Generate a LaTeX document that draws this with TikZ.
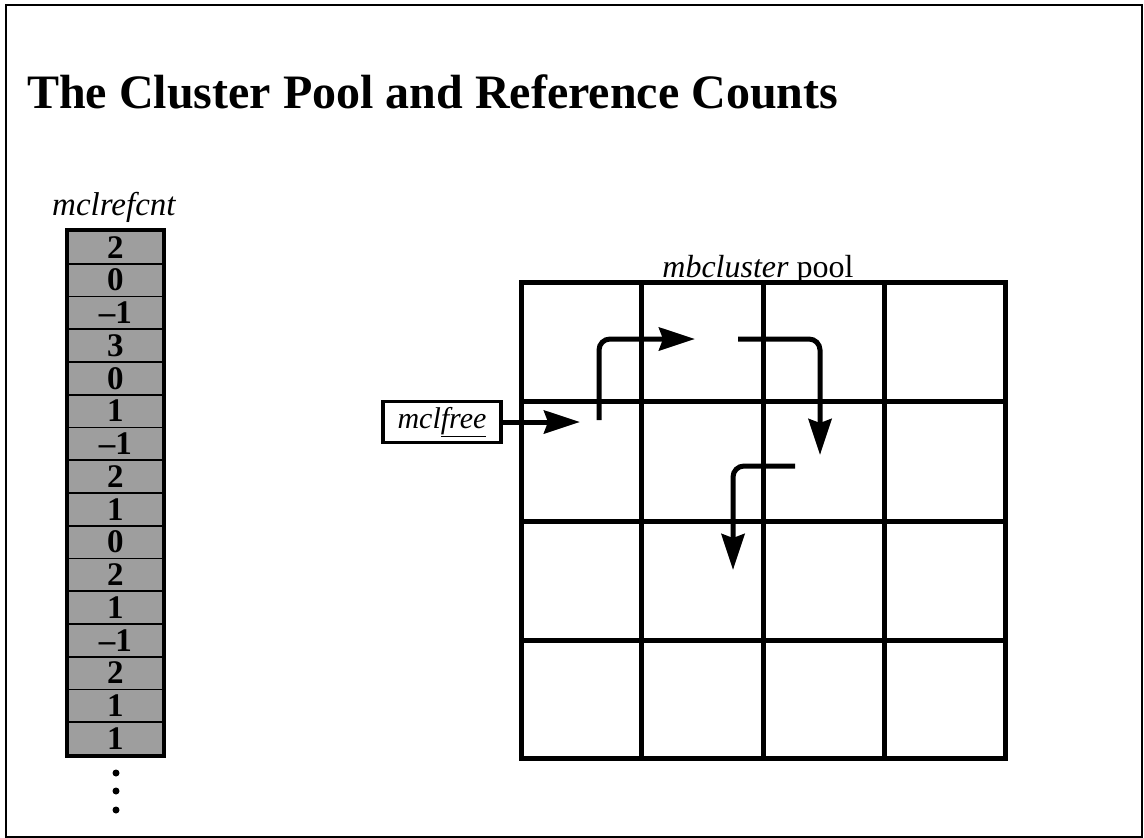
\documentclass[tikz,border=0pt]{standalone}
\usepackage{fontspec}
\setmainfont{Liberation Serif}
\usetikzlibrary{arrows.meta}
\begin{document}
\begin{tikzpicture}[x=1pt,y=-1pt,
  cellbox/.style={draw=black, line width=1.8pt, fill=black!38, minimum width=95pt, minimum height=32.75pt, inner sep=0pt, anchor=north west, font=\fontsize{33}{33}\selectfont\bfseries},
  ptr/.style={line width=5pt, rounded corners=11pt, -{Stealth[length=36pt,width=23pt,inset=4pt]}},
  gridline/.style={line width=5pt},
  lbl/.style={inner sep=0pt, font=\fontsize{32}{32}\selectfont}
]
\useasboundingbox (0,0) rectangle (1144,838);
\draw[line width=2pt] (6,5) rectangle (1142,837);
\node[anchor=base west, inner sep=0pt, font=\fontsize{48}{48}\selectfont\bfseries] (title) at (27,108) {The Cluster Pool and Reference Counts};

% reference count array
\node[lbl, anchor=base west, font=\fontsize{33}{33}\selectfont] (reflbl) at (52,215) {\itshape mclrefcnt};
\foreach \v [count=\i] in {2,0,–1,3,0,1,–1,2,1,0,2,1,–1,2,1,1}{
  \node[cellbox] (r\i) at (67,{230+(\i-1)*32.75}) {\v};
}
\draw[line width=3.5pt] (r1.north west) rectangle (r16.south east);
\foreach \y [count=\k] in {773,791,810}{
  \fill (116,\y) circle (3.5pt) coordinate (dot\k);
}

% cluster pool
\node[lbl, anchor=base] (poollbl) at (758,277) {\textit{mbcluster} pool};
\draw[gridline] (521,282) rectangle (1005,758);
\foreach \x in {641,763,884}{\draw[gridline] (\x,282) -- (\x,758);}
\foreach \y in {401,521,640}{\draw[gridline] (521,\y) -- (1005,\y);}

% free list
\node[draw, line width=3.5pt, minimum width=118pt, minimum height=41pt, inner sep=0pt, font=\fontsize{30}{30}\selectfont] (mclfree) at (442,422) {\textit{mcl\underline{free}}};
\coordinate (a1) at (580,422);
\coordinate (b0) at (599,420);
\coordinate (b1) at (695,339);
\coordinate (c0) at (738,339);
\coordinate (c1) at (820,455);
\coordinate (d0) at (795,466);
\coordinate (d1) at (733,570);
\draw[ptr] (mclfree.east) -- (a1);
\draw[ptr] (b0) |- (b1);
\draw[ptr] (c0) -| (c1);
\draw[ptr] (d0) -| (d1);
\end{tikzpicture}
\end{document}
